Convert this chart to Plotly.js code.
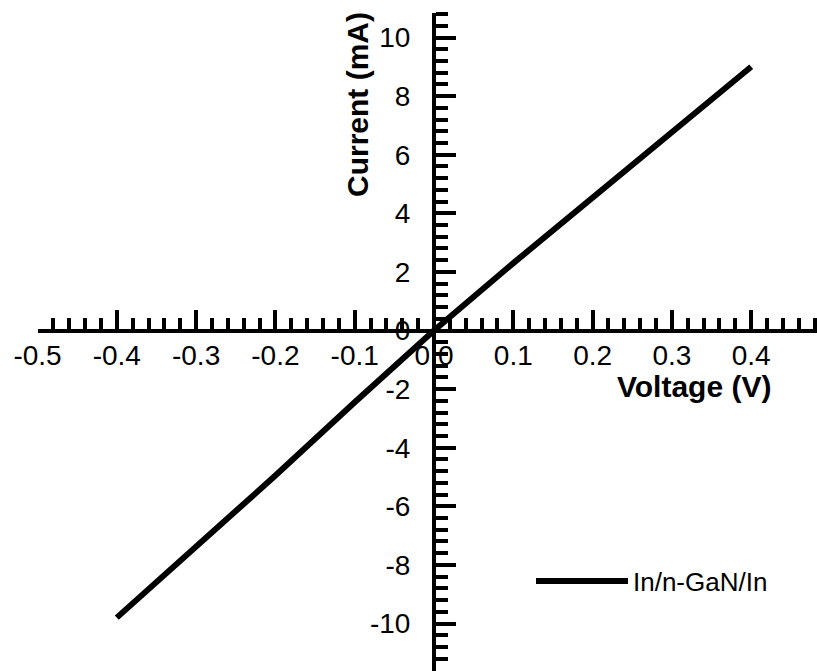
<!DOCTYPE html>
<html>
<head>
<meta charset="utf-8">
<script src="https://cdn.plot.ly/plotly-3.0.1.min.js"></script>
<style>html,body{margin:0;padding:0;background:#fff;}#chart{width:817px;height:671px;}</style>
</head>
<body>
<div id="chart"></div>
<script>
// Data
const voltage = [-0.4, -0.3, -0.2, -0.1, 0.0, 0.1, 0.2, 0.3, 0.4];
const current = [-9.8, -7.4, -4.95, -2.45, 0.0, 2.3, 4.55, 6.8, 9.0];
const seriesName = 'In/n-GaN/In';

const xTickVals = [-0.5, -0.4, -0.3, -0.2, -0.1, 0.0, 0.1, 0.2, 0.3, 0.4];
const xTickText = ['-0.5', '-0.4', '-0.3', '-0.2', '-0.1', '0.0', '0.1', '0.2', '0.3', '0.4'];
const yTickVals = [-10, -8, -6, -4, -2, 0, 2, 4, 6, 8, 10];
const yTickText = ['-10', '-8', '-6', '-4', '-2', '0', '2', '4', '6', '8', '10'];

const W = 817, H = 671;
// pixel geometry
const x0px = 434, pxPerV = 793;     // x=0 at 434px, 0.1 V = 79.3 px
const y0px = 330.5, pxPerMA = 29.3; // y=0 at 330.5px
const xMin = -0.5, xMax = (W - x0px) / pxPerV;
const yTopPx = 13;
const yMax = (y0px - yTopPx) / pxPerMA, yMin = -(H - y0px) / pxPerMA;

const font = {family: 'Liberation Sans, Arial, sans-serif', color: '#000'};

const trace = {
  x: voltage, y: current, type: 'scatter', mode: 'lines', name: seriesName,
  line: {color: '#000', width: 6}
};

const layout = {
  width: W, height: H,
  margin: {l: 0, r: 0, t: 0, b: 0, pad: 0},
  paper_bgcolor: '#fff', plot_bgcolor: '#fff',
  font: Object.assign({size: 28}, font),
  showlegend: true,
  legend: {
    x: 531 / W, y: (H - 581) / H, xanchor: 'left', yanchor: 'middle',
    bgcolor: 'rgba(0,0,0,0)', borderwidth: 0,
    font: Object.assign({size: 26}, font),
    itemwidth: 92
  },
  xaxis: {
    range: [xMin, xMax],
    domain: [(x0px + xMin * pxPerV) / W, 1],
    anchor: 'free', position: (H - y0px) / H,
    showgrid: false, zeroline: false,
    showline: true, linecolor: '#000', linewidth: 4,
    tickmode: 'array', tickvals: xTickVals, ticktext: xTickText,
    ticks: 'inside', ticklen: 19, tickwidth: 4, tickcolor: '#000',
    minor: {dtick: 0.02, ticks: 'inside', ticklen: 11, tickwidth: 4, tickcolor: '#000', showgrid: false},
    tickfont: Object.assign({size: 28}, font),
    ticklabelstandoff: -1
  },
  yaxis: {
    range: [yMin, yMax],
    domain: [0, (H - yTopPx) / H],
    anchor: 'free', position: x0px / W,
    showgrid: false, zeroline: false,
    showline: true, linecolor: '#000', linewidth: 4,
    tickmode: 'array', tickvals: yTickVals, ticktext: yTickText,
    ticks: 'inside', ticklen: 20, tickwidth: 4, tickcolor: '#000',
    minor: {dtick: 0.4, tick0: 0, ticks: 'inside', ticklen: 12, tickwidth: 4, tickcolor: '#000', showgrid: false},
    tickfont: Object.assign({size: 28}, font),
    ticklabelstandoff: 16
  },
  annotations: [
    {text: '<b>Voltage (V)</b>', xref: 'paper', yref: 'paper',
     x: 694 / W, y: (H - 386) / H, xanchor: 'center', yanchor: 'middle',
     showarrow: false, font: Object.assign({size: 30}, font)},
    {text: '<b>Current (mA)</b>', xref: 'paper', yref: 'paper', textangle: -90,
     x: 357 / W, y: (H - 105) / H, xanchor: 'center', yanchor: 'middle',
     showarrow: false, font: Object.assign({size: 30}, font)}
  ]
};

Plotly.newPlot('chart', [trace], layout, {staticPlot: true, displayModeBar: false});
</script>
</body>
</html>
